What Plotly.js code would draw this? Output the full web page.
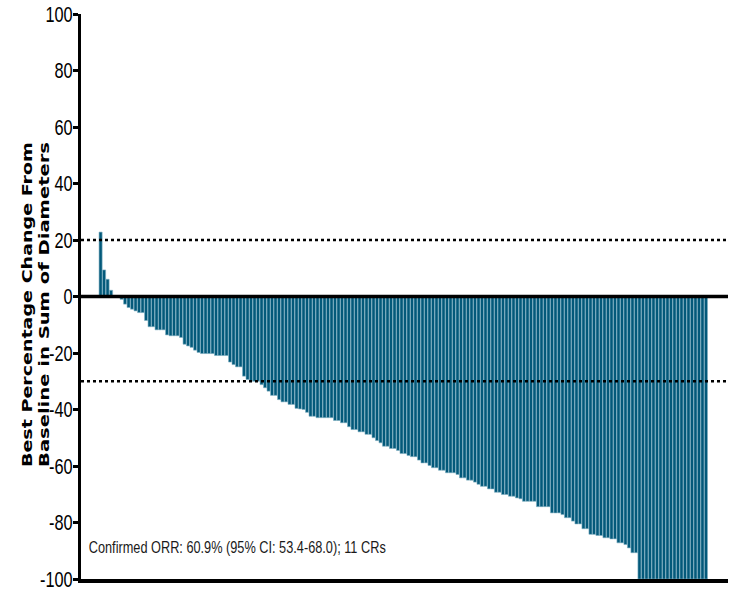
<!DOCTYPE html>
<html>
<head>
<meta charset="utf-8">
<script src="https://cdn.plot.ly/plotly-3.0.1.min.js"></script>
<style>
  html, body { margin: 0; padding: 0; background: #ffffff; }
  #chart { width: 731px; height: 591px; }
</style>
</head>
<body>
<div id="chart"></div>
<script>
// Best percentage change from baseline per patient, sorted
const patientValues = [
  22.8, 9.4, 6.1, 2.2, 0, 0, -1,
  -2.7, -3.9, -4.5, -5.1, -5.7, -5.7, -8.5, -10.7, -10.7, -11.8, -11.8, -11.8,
  -13.6, -13.9, -13.9, -13.9, -14.5, -16.9, -17.5, -18, -19, -19.8,
  -20.2, -20.2, -20.2, -20.2, -20.9, -20.9, -20.9, -20.9, -23.2, -24.1, -24.9, -24.9,
  -28.2, -29.4, -30, -30, -30, -31.2, -32.3, -33.5, -35, -35, -36.5, -37.3, -37.3,
  -38.2, -38.2, -39.6, -39.8, -40,
  -41, -42.4, -42.4, -42.9, -42.9, -42.9, -42.9, -42.9, -43.9, -43.9, -44.7, -44.7,
  -46.1, -47.1, -47.1, -47.9, -47.9, -48.8, -48.8, -50, -51, -51.8, -53, -53,
  -53.8, -53.8, -54.5, -55.6, -55.6, -56.3,
  -56.7, -56.7, -57.9, -58.9, -58.9, -59.8, -60.6, -60.6, -61.5, -61.5,
  -62.4, -62.4, -62.4, -63, -64.2, -64.2, -65, -65, -65.7, -66.5, -67.2, -67.2,
  -68.1, -68.1, -69.3, -69.3, -70.1, -70.1, -70.7, -70.7,
  -71.3, -71.6, -72.5, -72.5, -72.5, -72.5, -74.4, -74.4, -74.4, -74.4,
  -76.6, -76.6, -76.6, -77.2, -78.3, -78.3, -79.5, -80.5, -80.5, -82.2, -82.2,
  -84.2, -84.2, -84.6, -84.6, -85.4, -85.4, -85.8, -85.8, -87.2,
  -87.2, -87.8, -89, -90.7, -90.7,
  -100, -100, -100, -100, -100, -100, -100, -100, -100, -100,
  -100, -100, -100, -100, -100, -100, -100, -100, -100, -100
];
const patientIndex = patientValues.map((v, i) => i);
const yTickValues = [-100, -80, -60, -40, -20, 0, 20, 40, 60, 80, 100];
const progressionThreshold = 20;
const responseThreshold = -30;
const yTitleLines = ["Best Percentage Change From", "Baseline in Sum of Diameters"];
const noteText = "Confirmed ORR: 60.9% (95% CI: 53.4-68.0); 11 CRs";

const trace = {
  type: "bar",
  x: patientIndex,
  y: patientValues,
  marker: { color: "#03597a", line: { color: "#7fb0c2", width: 0.6 } },
  hoverinfo: "y"
};

const PLOT_L = 81, PLOT_W = 731 - 81 - 3, PLOT_T = 14, PLOT_H = 591 - 14 - 12;
const px = v => (v - PLOT_L) / PLOT_W;
const py = v => 1 - (v - PLOT_T) / PLOT_H;

const layout = {
  width: 731, height: 591,
  margin: { l: PLOT_L, r: 3, t: PLOT_T, b: 12 },
  paper_bgcolor: "#ffffff",
  plot_bgcolor: "#ffffff",
  showlegend: false,
  bargap: 0.12,
  xaxis: {
    range: [-5.6, 179.3],
    showticklabels: false, ticks: "", showgrid: false, zeroline: false,
    showline: true, linecolor: "#000000", linewidth: 3.5
  },
  yaxis: {
    range: [-100, 100],
    tickvals: yTickValues,
    ticktext: yTickValues.map(String),
    ticks: "outside", ticklen: 5, tickwidth: 3, tickcolor: "#000000",
    showgrid: false, zeroline: false,
    showline: true, linecolor: "#000000", linewidth: 3,
    tickfont: { family: "Liberation Sans, Arial, sans-serif", size: 22, color: "#000000" },
    ticklabeloverflow: "allow",
    ticklabelstandoff: 0
  },
  shapes: [
    { type: "line", xref: "paper", x0: 0, x1: 1, yref: "y", y0: 0, y1: 0,
      line: { color: "#000000", width: 3.5 } },
    { type: "line", xref: "paper", x0: 0, x1: 1, yref: "y", y0: progressionThreshold, y1: progressionThreshold,
      line: { color: "#000000", width: 2.5, dash: "dot" } },
    { type: "line", xref: "paper", x0: 0, x1: 1, yref: "y", y0: responseThreshold, y1: responseThreshold,
      line: { color: "#000000", width: 2.5, dash: "dot" } }
  ],
  annotations: [
    { text: yTitleLines[0], xref: "paper", yref: "paper", x: px(27), y: py(305),
      xanchor: "center", yanchor: "middle", textangle: -90, showarrow: false,
      font: { family: "DejaVu Sans, sans-serif", size: 14, color: "#000000", weight: "bold" } },
    { text: yTitleLines[1], xref: "paper", yref: "paper", x: px(44), y: py(305),
      xanchor: "center", yanchor: "middle", textangle: -90, showarrow: false,
      font: { family: "DejaVu Sans, sans-serif", size: 14, color: "#000000", weight: "bold" } },
    { text: noteText, xref: "paper", yref: "y", x: px(89 + 297 / 2), y: -89,
      xanchor: "center", yanchor: "middle", showarrow: false,
      font: { family: "Liberation Sans, Arial, sans-serif", size: 17, color: "#1a1a1a" } }
  ]
};

function squeeze(el, targetWidth) {
  el.setAttribute("textLength", targetWidth);
  el.setAttribute("lengthAdjust", "spacingAndGlyphs");
}

Plotly.newPlot("chart", [trace], layout, { displayModeBar: false, staticPlot: true }).then(() => {
  // narrow, tall tick numerals like the original, set close to the tick marks
  document.querySelectorAll(".ytick text").forEach(t => {
    squeeze(t, t.getComputedTextLength() * 0.74);
    const x0 = parseFloat(t.getAttribute("x") || "0");
    t.setAttribute("x", x0 + 4);
  });
  const annTexts = document.querySelectorAll(".annotation-text");
  if (annTexts.length >= 3) {
    squeeze(annTexts[0], 325);
    squeeze(annTexts[1], 325);
    squeeze(annTexts[2], 297);
  }
});
</script>
</body>
</html>
